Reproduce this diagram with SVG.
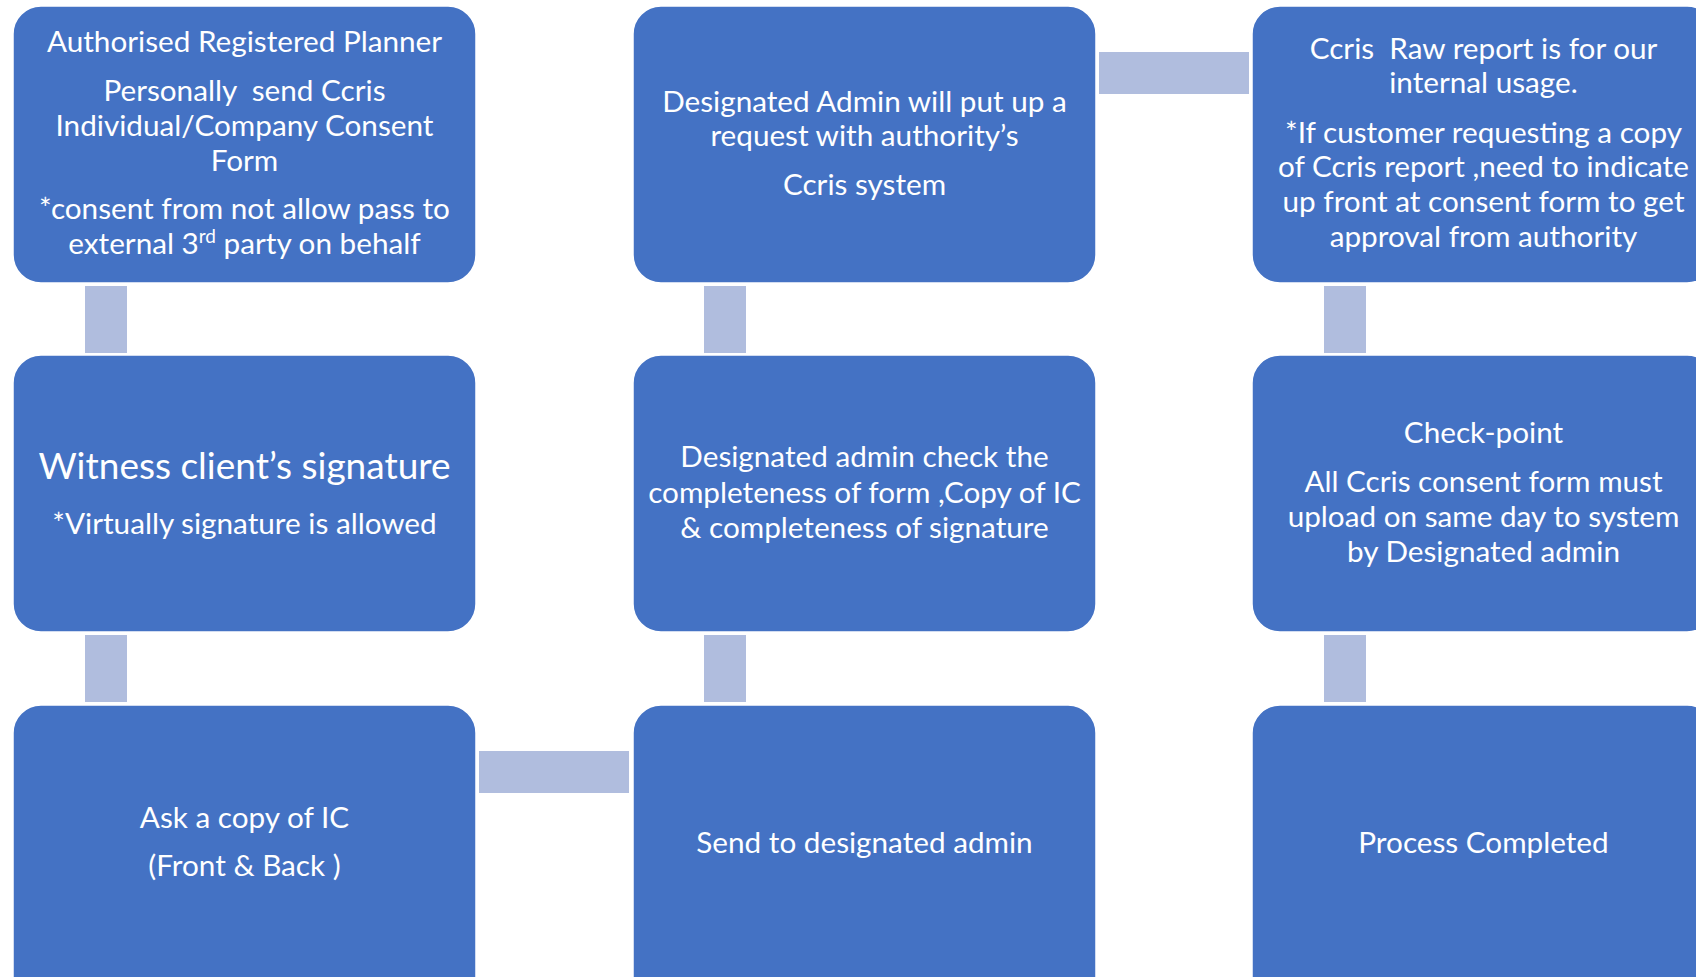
<svg xmlns="http://www.w3.org/2000/svg" width="1696" height="977" viewBox="0 0 1696 977">
<style>
.box{fill:#4472C4;stroke:#FFFFFF;stroke-width:1.5}
.con{fill:#B0BDDE}
.t{font-family:Lato,"Open Sans","Liberation Sans",sans-serif;font-size:29.7px;fill:#FFFFFF;text-anchor:middle}
.big{font-size:37px}
.pre{white-space:pre}
</style>
<rect width="1696" height="977" fill="#FFFFFF"/>
<g id="connectors">
<rect class="con" x="85" y="286" width="42" height="67"/>
<rect class="con" x="85" y="635" width="42" height="67"/>
<rect class="con" x="479" y="751" width="150" height="42"/>
<rect class="con" x="704" y="635" width="42" height="67"/>
<rect class="con" x="704" y="286" width="42" height="67"/>
<rect class="con" x="1099" y="52" width="150" height="42"/>
<rect class="con" x="1324" y="286" width="42" height="67"/>
<rect class="con" x="1324" y="635" width="42" height="67"/>
</g>
<g id="node-planner">
<rect class="box" x="13" y="6" width="463" height="277" rx="28"/>
<text class="t" x="244.5" y="52">Authorised Registered Planner</text>
<text class="t pre" x="244.5" y="101">Personally  send Ccris</text>
<text class="t" x="244.5" y="136">Individual/Company Consent</text>
<text class="t" x="244.5" y="171">Form</text>
<text class="t" x="244.5" y="219">*consent from not allow pass to</text>
<text class="t" x="244.5" y="254">external 3<tspan font-size="19" dy="-11">rd</tspan><tspan dy="11"> party on behalf</tspan></text>
</g>
<g id="node-witness">
<rect class="box" x="13" y="355" width="463" height="277" rx="28"/>
<text class="t big" x="244.5" y="479">Witness client’s signature</text>
<text class="t" x="244.5" y="534">*Virtually signature is allowed</text>
</g>
<g id="node-ask-ic">
<rect class="box" x="13" y="705" width="463" height="300" rx="28"/>
<text class="t" x="244.5" y="828">Ask a copy of IC</text>
<text class="t" x="244.5" y="876">(Front &amp; Back )</text>
</g>
<g id="node-send-admin">
<rect class="box" x="633" y="705" width="463" height="300" rx="28"/>
<text class="t" x="864.5" y="853">Send to designated admin</text>
</g>
<g id="node-admin-check">
<rect class="box" x="633" y="355" width="463" height="277" rx="28"/>
<text class="t" x="864.5" y="467">Designated admin check the</text>
<text class="t" x="864.5" y="503">completeness of form ,Copy of IC</text>
<text class="t" x="864.5" y="538">&amp; completeness of signature</text>
</g>
<g id="node-admin-request">
<rect class="box" x="633" y="6" width="463" height="277" rx="28"/>
<text class="t" x="864.5" y="112">Designated Admin will put up a</text>
<text class="t" x="864.5" y="146">request with authority’s</text>
<text class="t" x="864.5" y="195">Ccris system</text>
</g>
<g id="node-raw-report">
<rect class="box" x="1252" y="6" width="463" height="277" rx="28"/>
<text class="t pre" x="1483.5" y="59">Ccris  Raw report is for our</text>
<text class="t" x="1483.5" y="93">internal usage.</text>
<text class="t" x="1483.5" y="143">*If customer requesting a copy</text>
<text class="t" x="1483.5" y="177">of Ccris report ,need to indicate</text>
<text class="t" x="1483.5" y="212">up front at consent form to get</text>
<text class="t" x="1483.5" y="247">approval from authority</text>
</g>
<g id="node-checkpoint">
<rect class="box" x="1252" y="355" width="463" height="277" rx="28"/>
<text class="t" x="1483.5" y="443">Check-point</text>
<text class="t" x="1483.5" y="492">All Ccris consent form must</text>
<text class="t" x="1483.5" y="527">upload on same day to system</text>
<text class="t" x="1483.5" y="562">by Designated admin</text>
</g>
<g id="node-completed">
<rect class="box" x="1252" y="705" width="463" height="300" rx="28"/>
<text class="t" x="1483.5" y="853">Process Completed</text>
</g>
</svg>
